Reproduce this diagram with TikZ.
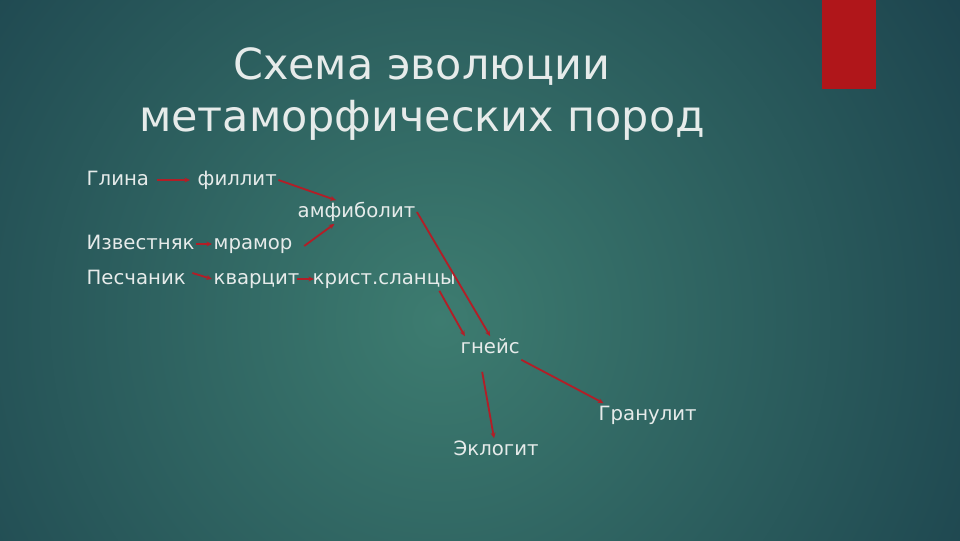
\documentclass[tikz,border=0pt]{standalone}
\usepackage{fontspec}
\setmainfont{DejaVu Sans}
\usetikzlibrary{calc,arrows.meta}
\definecolor{bgdark}{HTML}{143545}
\definecolor{bglight}{HTML}{3D7C70}
\definecolor{linered}{HTML}{B21E27}
\definecolor{barred}{HTML}{B0161A}
\definecolor{txt}{HTML}{E6EBEA}
\tikzset{rock/.style={text=txt,font=\fontsize{14}{16}\selectfont,inner xsep=1pt,inner ysep=3pt,anchor=west,
        text height=1.6ex,text depth=.3ex},
    link/.style={-{Stealth[length=4pt,width=3.5pt]},draw=linered,line width=1.3pt}}
\begin{document}
\begin{tikzpicture}[x=0.025cm,y=-0.025cm]
                \useasboundingbox (0,0) rectangle (960,540);
                \fill[bgdark] (0,0) rectangle (960,540);
                \begin{scope}
                \clip (0,0) rectangle (960,540);
                \shade[inner color=bglight,outer color=bgdark] (440,320) circle (780);
                \end{scope}
                \fill[barred] (822,0) rectangle (876,89);

                \node[text=txt,align=center,font=\fontsize{30.5}{37}\selectfont] (title) at(422,94) {Схема эволюции\\метаморфических пород};

                \node[rock] (glina) at(85,180) {Глина};
                \node[rock] (fillit) at(196,180) {филлит};
                \node[rock] (amfib) at(296,212) {амфиболит};
                \node[rock] (izv) at(85,244) {Известняк};
                \node[rock] (mramor) at(212,244) {мрамор};
                \node[rock] (pesch) at(85,279) {Песчаник};
                \node[rock] (kvarc) at(212,279) {кварцит};
                \node[rock] (krist) at(311,279) {крист.сланцы};
                \node[rock] (gneis) at(459,348) {гнейс};
                \node[rock] (granulit) at(597,415) {Гранулит};
                \node[rock] (eklogit) at(452,450) {Эклогит};

                \draw[link] ($(glina.east)+(6,0)$) -- ($(fillit.west)+(-6,0)$);
                \draw[link] (fillit.east) -- (amfib.150);
                \draw[link] ($(mramor.east)+(10,2)$) -- ($(amfib.south)+(-22,0)$);
                \draw[link] (izv) -- (mramor);
                \draw[link] ($(pesch.east)+(5,-6)$) -- (kvarc.west);
                \draw[link] ($(kvarc.east)+(-4,0)$) -- ($(krist.west)+(3,0)$);
                \draw[link] (amfib.east) -- (gneis.north);
                \draw[link] ($(krist.south east)+(-18,0)$) -- (gneis.155);
                \draw[link] (gneis.south east) -- (granulit.165);
                \draw[link] ($(gneis.south)+(-8,12)$) -- (eklogit.100);
            \end{tikzpicture}
\end{document}
